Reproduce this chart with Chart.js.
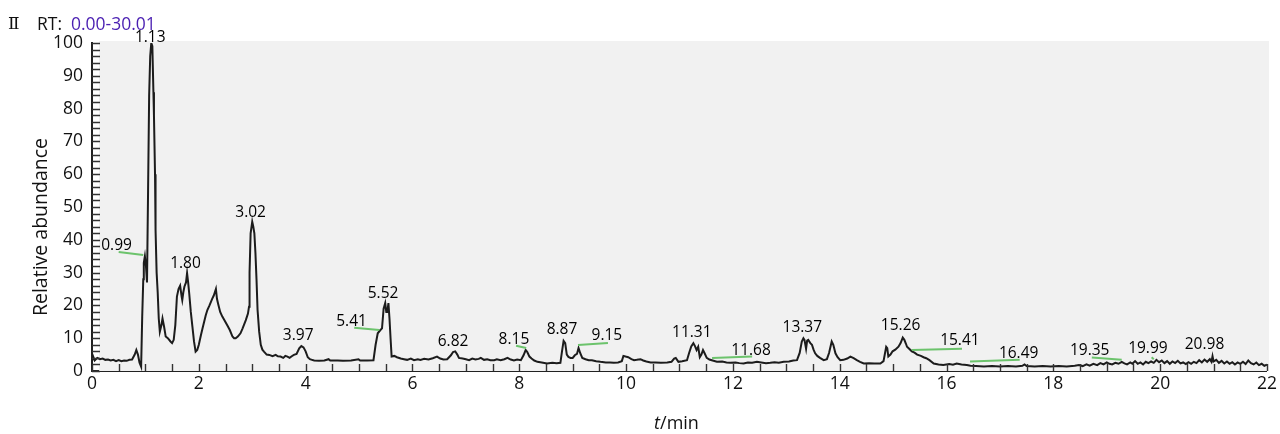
<!DOCTYPE html>
<html>
<head>
<meta charset="utf-8">
<script src="https://cdn.jsdelivr.net/npm/chart.js@4.4.1/dist/chart.umd.min.js"></script>
<style>
  html, body { margin: 0; padding: 0; background: #fff; }
  #wrap { width: 1280px; height: 434px; }
</style>
</head>
<body>
<div id="wrap"><canvas id="tic"></canvas></div>
<script>
// retention time (min) and relative abundance (%)
const rt = [
  0.00, 0.02, 0.05, 0.10, 0.15, 0.20, 0.25, 0.30, 0.35, 0.40, 0.45, 0.50, 0.55, 0.60, 0.65, 0.70,
  0.75, 0.80, 0.83, 0.86, 0.89, 0.92, 0.94, 0.96, 0.97, 0.99, 1.01, 1.03, 1.05, 1.07, 1.09, 1.11,
  1.13, 1.15, 1.16, 1.18, 1.19, 1.21, 1.23, 1.25, 1.27, 1.30, 1.32, 1.35, 1.38, 1.42, 1.47, 1.50,
  1.53, 1.56, 1.59, 1.62, 1.65, 1.68, 1.69, 1.71, 1.73, 1.76, 1.78, 1.80, 1.82, 1.85, 1.88, 1.91,
  1.94, 1.97, 2.00, 2.04, 2.07, 2.10, 2.13, 2.16, 2.20, 2.25, 2.28, 2.30, 2.32, 2.34, 2.36, 2.40,
  2.44, 2.48, 2.53, 2.58, 2.63, 2.66, 2.69, 2.73, 2.78, 2.82, 2.88, 2.92, 2.94, 2.95, 2.97, 3.00,
  3.02, 3.04, 3.06, 3.08, 3.10, 3.13, 3.16, 3.19, 3.22, 3.27, 3.32, 3.38, 3.44, 3.48, 3.53, 3.58,
  3.62, 3.66, 3.70, 3.74, 3.78, 3.83, 3.88, 3.92, 3.96, 4.00, 4.04, 4.08, 4.12, 4.16, 4.25, 4.35,
  4.43, 4.46, 4.60, 4.70, 4.85, 4.99, 5.02, 5.15, 5.27, 5.31, 5.35, 5.40, 5.43, 5.46, 5.49, 5.51,
  5.53, 5.55, 5.57, 5.59, 5.61, 5.66, 5.71, 5.78, 5.84, 5.90, 5.97, 6.03, 6.10, 6.15, 6.22, 6.30,
  6.38, 6.46, 6.52, 6.58, 6.65, 6.72, 6.76, 6.80, 6.84, 6.87, 6.94, 7.00, 7.06, 7.12, 7.18, 7.24,
  7.28, 7.34, 7.40, 7.46, 7.53, 7.58, 7.65, 7.72, 7.78, 7.84, 7.90, 7.96, 8.03, 8.08, 8.12, 8.15,
  8.19, 8.23, 8.28, 8.34, 8.42, 8.52, 8.62, 8.70, 8.77, 8.80, 8.83, 8.86, 8.89, 8.92, 8.96, 9.00,
  9.04, 9.08, 9.11, 9.14, 9.18, 9.24, 9.30, 9.36, 9.44, 9.52, 9.62, 9.70, 9.77, 9.85, 9.92, 9.95,
  9.99, 10.04, 10.10, 10.15, 10.20, 10.27, 10.32, 10.38, 10.46, 10.55, 10.65, 10.77, 10.85, 10.90, 10.93, 10.98,
  11.05, 11.14, 11.18, 11.22, 11.26, 11.29, 11.32, 11.35, 11.38, 11.41, 11.44, 11.47, 11.51, 11.56, 11.62, 11.70,
  11.80, 11.88, 11.95, 12.05, 12.12, 12.20, 12.28, 12.36, 12.45, 12.53, 12.62, 12.70, 12.78, 12.86, 12.95, 13.05,
  13.13, 13.20, 13.25, 13.29, 13.32, 13.34, 13.37, 13.39, 13.41, 13.45, 13.48, 13.51, 13.54, 13.58, 13.63, 13.70,
  13.76, 13.80, 13.85, 13.88, 13.92, 13.96, 14.01, 14.07, 14.14, 14.20, 14.26, 14.32, 14.38, 14.45, 14.55, 14.65,
  14.76, 14.82, 14.87, 14.89, 14.91, 14.95, 14.99, 15.04, 15.10, 15.14, 15.18, 15.21, 15.24, 15.26, 15.30, 15.35,
  15.40, 15.45, 15.52, 15.57, 15.62, 15.68, 15.76, 15.85, 15.94, 16.05, 16.12, 16.19, 16.28, 16.38, 16.45, 16.55,
  16.70, 16.85, 17.00, 17.15, 17.30, 17.42, 17.46, 17.50, 17.65, 17.80, 17.95, 18.10, 18.25, 18.40, 18.48, 18.55,
  18.62, 18.68, 18.75, 18.82, 18.88, 18.94, 19.00, 19.05, 19.10, 19.16, 19.22, 19.28, 19.33, 19.38, 19.44, 19.48,
  19.53, 19.58, 19.63, 19.68, 19.73, 19.78, 19.83, 19.88, 19.93, 19.98, 20.03, 20.08, 20.13, 20.18, 20.23, 20.28,
  20.33, 20.38, 20.43, 20.48, 20.53, 20.58, 20.63, 20.68, 20.73, 20.78, 20.83, 20.88, 20.93, 20.96, 20.98, 21.00,
  21.05, 21.10, 21.15, 21.20, 21.25, 21.30, 21.35, 21.40, 21.45, 21.50, 21.55, 21.60, 21.65, 21.70, 21.75, 21.80,
  21.85, 21.90, 21.95, 22.00
];
const abundance = [
  3.0, 4.5, 3.2, 4.0, 3.6, 3.8, 3.4, 3.5, 3.2, 3.4, 3.0, 3.3, 3.0, 3.2, 3.1, 3.4,
  3.5, 5.0, 6.4, 5.0, 2.5, 1.3, 16.5, 28, 33, 35, 32, 27, 55, 84, 96, 100,
  99, 85, 78, 60, 43, 30, 24, 16, 12, 14, 16, 13.5, 10.5, 10, 9, 8.5,
  9.5, 14, 22.7, 25, 26, 22.5, 21.6, 24, 25.7, 27, 29.8, 27, 23.7, 18, 13.5, 9,
  5.9, 6.4, 8, 11, 13, 15, 17, 18.6, 20, 22, 23, 24, 25, 22, 20.6, 18,
  16.6, 15.5, 14, 12.5, 10.5, 10, 10, 10.5, 11.5, 13, 15.5, 17.5, 19.6, 30, 42, 45.5,
  44, 42, 36, 28, 18.6, 12, 8, 6.5, 5.9, 5.0, 4.9, 4.5, 4.9, 4.5, 4.4, 4.0,
  4.6, 4.4, 4.0, 4.5, 4.9, 5.2, 6.9, 7.6, 7.2, 6.0, 4.2, 3.6, 3.4, 3.2, 3.1, 3.2,
  3.6, 3.2, 3.2, 3.1, 3.2, 3.6, 3.2, 3.2, 3.3, 8, 11.5, 12.5, 13, 19, 20.7, 18,
  18, 20.7, 16, 10, 4.4, 4.6, 4.2, 3.8, 3.6, 3.4, 3.8, 3.3, 3.6, 3.4, 3.7, 3.5,
  3.9, 4.4, 3.8, 3.5, 3.6, 4.8, 5.8, 6.0, 5.0, 4.0, 3.8, 3.6, 3.3, 3.8, 3.5, 3.7,
  4.0, 3.4, 3.6, 3.3, 3.3, 3.6, 3.3, 3.6, 4.0, 3.5, 3.2, 3.5, 3.3, 4.8, 6.4, 5.8,
  4.4, 3.8, 3.2, 2.8, 2.6, 2.3, 2.5, 2.4, 2.5, 6.0, 9.2, 8.5, 5.0, 4.3, 4.0, 4.0,
  4.8, 5.2, 7.0, 5.5, 4.0, 3.6, 3.3, 3.3, 3.0, 2.8, 2.6, 2.6, 2.5, 2.6, 3.0, 4.6,
  4.4, 4.2, 3.6, 3.3, 3.4, 3.6, 3.2, 2.9, 2.6, 2.6, 2.5, 2.6, 2.8, 3.8, 4.0, 2.8,
  3.0, 3.3, 5.5, 7.5, 8.5, 7.6, 6.4, 7.4, 4.2, 5.0, 6.4, 5.4, 4.0, 3.5, 3.2, 2.8,
  2.9, 2.6, 2.5, 2.6, 2.4, 2.3, 2.6, 2.5, 2.8, 2.6, 2.4, 2.5, 2.7, 2.5, 2.8, 2.9,
  3.2, 3.3, 5.5, 9.0, 10.0, 9.5, 6.8, 9.3, 9.5, 8.5, 8.0, 6.5, 5.4, 4.6, 4.0, 3.3,
  3.6, 5.5, 9.0, 8.0, 5.4, 4.2, 3.3, 3.4, 3.8, 4.4, 3.9, 3.3, 2.8, 2.3, 2.4, 2.3,
  2.3, 3.0, 7.4, 7.0, 4.4, 5.0, 6.0, 6.5, 7.4, 8.5, 10.2, 9.5, 8.3, 7.4, 6.8, 6.0,
  5.6, 5.0, 4.6, 4.2, 3.9, 3.3, 2.3, 2.0, 1.8, 2.1, 1.9, 2.3, 2.0, 1.8, 1.6, 1.5,
  1.4, 1.5, 1.4, 1.5, 1.4, 1.6, 2.0, 1.5, 1.4, 1.5, 1.4, 1.5, 1.4, 1.6, 1.8, 1.5,
  2.0, 1.6, 2.2, 1.8, 2.4, 2.0, 2.6, 2.2, 2.0, 2.5, 2.2, 2.8, 2.3, 2.0, 2.6, 2.2,
  3.0, 2.2, 2.6, 2.0, 2.8, 2.4, 2.9, 2.5, 3.4, 2.7, 3.2, 2.4, 3.0, 2.2, 2.9, 2.4,
  3.1, 2.3, 2.6, 2.1, 2.7, 2.2, 2.8, 2.4, 3.3, 2.6, 3.5, 2.8, 3.6, 2.8, 4.5, 2.9,
  3.4, 2.5, 3.1, 2.3, 2.9, 2.2, 2.7, 2.0, 2.6, 2.2, 2.8, 2.1, 3.2, 2.4, 2.0, 2.6,
  1.8, 2.2, 1.6, 1.9
];

// peak annotations: text, anchor time, anchor abundance (text baseline)
const peakLabels = ['0.99', '1.13', '1.80', '3.02', '3.97', '5.41', '5.52', '6.82', '8.15', '8.87',
  '9.15', '11.31', '11.68', '13.37', '15.26', '15.41', '16.49', '19.35', '19.99', '20.98'];
const labelRt = [0.46, 1.09, 1.75, 2.97, 3.86, 4.86, 5.45, 6.76, 7.90, 8.80,
  9.64, 11.23, 12.34, 13.30, 15.14, 16.25, 17.35, 18.68, 19.77, 20.83];
const labelAbund = [37, 100.3, 31.5, 47, 9.5, 13.8, 22.3, 7.6, 8.2, 11.3,
  9.3, 10.4, 4.9, 12, 12.5, 8, 4, 4.9, 5.5, 6.7];

// green integration baselines: [t start, abundance, t end, abundance]
const baselineMarks = [
  [0.50, 36.3, 0.96, 35.4],
  [4.91, 13.2, 5.38, 12.5],
  [7.94, 7.7, 8.13, 7.0],
  [9.10, 7.9, 9.66, 8.5],
  [11.61, 4.0, 12.36, 4.4],
  [15.35, 6.4, 16.29, 6.8],
  [16.44, 2.9, 17.37, 3.4],
  [18.72, 4.1, 19.28, 3.4],
  [19.84, 4.2, 19.88, 3.6]
];

const xTicks = { min: 0, max: 22, step: 2, minor: 0.5 };
const yTicks = { min: 0, max: 100, step: 10, minor: 2 };

const FONT = '"Open Sans", "Noto Sans", sans-serif';

const chromPlugin = {
  id: 'chrom',
  beforeDatasetsDraw(chart) {
    const { ctx, chartArea: a } = chart;
    ctx.save();
    ctx.fillStyle = '#f1f1f1';
    ctx.fillRect(a.left + 7, a.top - 2, a.right + 2 - (a.left + 7), a.bottom - a.top + 2);
    ctx.restore();
  },
  afterDatasetsDraw(chart) {
    const { ctx, chartArea: a, scales: { x, y } } = chart;
    ctx.save();
    // inward tick marks
    ctx.strokeStyle = '#333';
    ctx.lineWidth = 1.4;
    ctx.beginPath();
    for (let v = yTicks.min; v <= yTicks.max; v += yTicks.minor) {
      const py = Math.round(y.getPixelForValue(v)) + 0.5;
      ctx.moveTo(a.left, py);
      ctx.lineTo(a.left + 8, py);
    }
    for (let t = xTicks.min; t <= xTicks.max; t += xTicks.minor) {
      const px = Math.round(x.getPixelForValue(t)) + 0.5;
      ctx.moveTo(px, a.bottom);
      ctx.lineTo(px, a.bottom - 7);
    }
    ctx.stroke();

    // peak labels
    ctx.font = '15.5px ' + FONT;
    ctx.fillStyle = '#000';
    ctx.textAlign = 'center';
    ctx.textBaseline = 'alphabetic';
    peakLabels.forEach((s, i) => {
      ctx.fillText(s, x.getPixelForValue(labelRt[i]), y.getPixelForValue(labelAbund[i]));
    });
    ctx.restore();
  },
  afterDraw(chart) {
    const { ctx, chartArea: a } = chart;
    ctx.save();
    ctx.textBaseline = 'alphabetic';
    ctx.textAlign = 'left';
    // header
    ctx.fillStyle = '#111';
    ctx.font = '17px "Liberation Serif", "DejaVu Serif", serif';
    ctx.fillText('Ⅱ', 8, 29);
    ctx.font = '17.5px ' + FONT;
    ctx.fillText('RT:', 37, 30);
    ctx.fillStyle = '#4a1fb2';
    ctx.fillText('0.00-30.01', 71, 30);

    // y title
    ctx.fillStyle = '#111';
    ctx.font = '19.5px ' + FONT;
    ctx.translate(47, 227);
    ctx.rotate(-Math.PI / 2);
    ctx.textAlign = 'center';
    ctx.fillText('Relative abundance', 0, 0);
    ctx.setTransform(1, 0, 0, 1, 0, 0);

    // x title: italic t + /min
    const cx = (a.left + a.right) / 2 - 3;
    ctx.textAlign = 'left';
    ctx.font = 'italic 18px ' + FONT;
    const wT = ctx.measureText('t').width;
    ctx.font = '18px ' + FONT;
    const wRest = ctx.measureText('/min').width;
    let sx = cx - (wT + wRest) / 2;
    ctx.font = 'italic 18px ' + FONT;
    ctx.fillText('t', sx, 429);
    ctx.font = '18px ' + FONT;
    ctx.fillText('/min', sx + wT, 429);
    ctx.restore();
  }
};

const tracePoints = rt.map((t, i) => ({ x: t, y: abundance[i] }));
const markSets = baselineMarks.map(m => ({
  data: [{ x: m[0], y: m[1] }, { x: m[2], y: m[3] }],
  borderColor: '#6cc36c',
  borderWidth: 2,
  pointRadius: 0,
  fill: false
}));

new Chart(document.getElementById('tic'), {
  type: 'line',
  data: {
    datasets: [
      ...markSets,
      {
        label: 'TIC',
        data: tracePoints,
        borderColor: '#1c1c1c',
        borderWidth: 2,
        pointRadius: 0,
        tension: 0,
        fill: false
      }
    ]
  },
  options: {
    responsive: true,
    maintainAspectRatio: false,
    animation: false,
    layout: { padding: { top: 43, right: 12, left: 0, bottom: 0 } },
    plugins: { legend: { display: false }, tooltip: { enabled: false }, title: { display: false } },
    scales: {
      x: {
        type: 'linear',
        min: xTicks.min,
        max: xTicks.max,
        ticks: { stepSize: xTicks.step, font: { size: 17.5, family: FONT }, color: '#111', padding: 3, maxRotation: 0 },
        grid: { drawOnChartArea: false, drawTicks: false },
        border: { color: '#222', width: 2 },
        afterFit: s => { s.height = 63; }
      },
      y: {
        min: yTicks.min,
        max: yTicks.max,
        ticks: { stepSize: yTicks.step, font: { size: 17.5, family: FONT }, color: '#111', padding: 9 },
        grid: { drawOnChartArea: false, drawTicks: false },
        border: { color: '#222', width: 2 },
        afterFit: s => { s.width = 92; }
      }
    }
  },
  plugins: [chromPlugin]
});
</script>
</body>
</html>
